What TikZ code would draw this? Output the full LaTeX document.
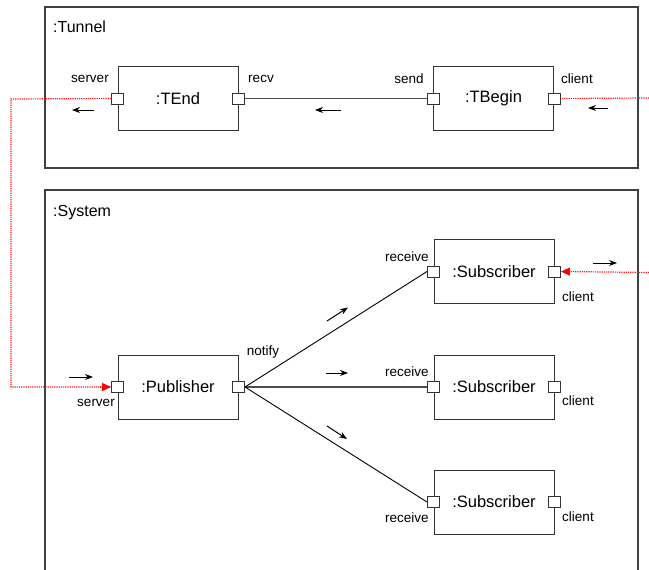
\documentclass[tikz,border=0pt]{standalone}
\usepackage{fontspec}
\setmainfont{Liberation Sans}
\usetikzlibrary{arrows.meta}

\tikzset{
  x=1pt, y=-1pt,
  frame/.style={draw=black!75, line width=1.1pt},
  comp/.style={draw=black!80, line width=1pt, minimum width=120pt, minimum height=64pt,
    inner sep=0pt, font=\fontsize{16.5}{18}\selectfont},
  port/.style={draw=black!80, fill=white, line width=1pt, minimum width=12pt,
    minimum height=11pt, inner sep=0pt},
  lbl/.style={inner sep=0pt, font=\fontsize{13.5}{15}\selectfont},
  title/.style={inner sep=0pt, anchor=west, font=\fontsize{16}{18}\selectfont},
  wire/.style={draw=black!70, line width=1.2pt},
  slant/.style={draw=black, line width=0.9pt},
  flow/.style={draw=black, line width=1pt, -{Stealth[length=8pt,width=6pt]}},
  link/.style={draw=red!90, line width=1.2pt, densely dotted},
  linktip/.style={-{Triangle[length=9pt,width=8pt,fill=red,color=red]}}
}

\begin{document}
\begin{tikzpicture}
\useasboundingbox (0,0) rectangle (649,570);
\fill[white] (0,0) rectangle (649,570);

% enclosing parts
\draw[frame] (45,7) rectangle (638,168);
\draw[frame] (638,571) -- (638,190) -- (45,190) -- (45,571);
\node[title] (tunnel) at (53,27) {:Tunnel};
\node[title] (system) at (53,213) {:System};

% tunnel components
\node[comp] (tend) at (178,98.5) {:TEnd};
\node[comp] (tbegin) at (493.5,98.5) {:TBegin};
\node[port] (tendS) at (tend.west) {};
\node[port] (tendR) at (tend.east) {};
\node[port] (tbegS) at (tbegin.west) {};
\node[port] (tbegC) at (tbegin.east) {};
\node[lbl] (lServer1) at (90,79) {server};
\node[lbl] (lRecv) at (261,79) {recv};
\node[lbl] (lSend) at (409,79) {send};
\node[lbl] (lClient0) at (577,79) {client};

% system components
\node[comp] (pub) at (178,387) {:Publisher};
\node[comp] (sub1) at (494,271.5) {:Subscriber};
\node[comp] (sub2) at (494,387) {:Subscriber};
\node[comp] (sub3) at (494,502) {:Subscriber};
\node[port] (pubS) at (pub.west) {};
\node[port] (pubN) at (pub.east) {};
\node[port] (s1R) at (sub1.west) {};
\node[port] (s1C) at (sub1.east) {};
\node[port] (s2R) at (sub2.west) {};
\node[port] (s2C) at (sub2.east) {};
\node[port] (s3R) at (sub3.west) {};
\node[port] (s3C) at (sub3.east) {};
\node[lbl] (lNotify) at (263,352) {notify};
\node[lbl] (lServer2) at (96,403) {server};
\node[lbl] (lRec1) at (407,257) {receive};
\node[lbl] (lRec2) at (407,372) {receive};
\node[lbl] (lRec3) at (407,518) {receive};
\node[lbl] (lCli1) at (578,297) {client};
\node[lbl] (lCli2) at (578,401) {client};
\node[lbl] (lCli3) at (578,517) {client};

% connectors
\draw[wire] (tendR) -- (tbegS);
\draw[wire] (pubN) -- (s2R);
\draw[slant] (pubN.east) -- (s1R.west);
\draw[slant] (pubN.east) -- (s3R.west);

% cross-part links
\coordinate (bend) at (11,99);
\coordinate (bendLow) at (11,387);
\coordinate (inTop) at (649,98);
\coordinate (inSub) at (649,272.5);
\draw[link] (tendS.west) -- (bend) -- (bendLow) -- (pubS.west);
\draw[link, linktip] (100,387) -- (pubS.west);
\draw[link] (inTop) -- (tbegC.east);
\draw[link, linktip] (inSub) -- (s1C.east);

% message direction marks
\coordinate (a1s) at (94,110);   \coordinate (a1e) at (72,110);
\coordinate (a2s) at (341,110);  \coordinate (a2e) at (315,110);
\coordinate (a3s) at (608,108);  \coordinate (a3e) at (588,108);
\coordinate (a4s) at (69,377);   \coordinate (a4e) at (93,377);
\coordinate (a5s) at (593,263);  \coordinate (a5e) at (617,263);
\coordinate (a6s) at (327,321);  \coordinate (a6e) at (348,307.5);
\coordinate (a7s) at (326,373);  \coordinate (a7e) at (348,373);
\coordinate (a8s) at (327,426);  \coordinate (a8e) at (347,439);
\foreach \i in {1,...,8} \draw[flow] (a\i s) -- (a\i e);
\end{tikzpicture}
\end{document}
